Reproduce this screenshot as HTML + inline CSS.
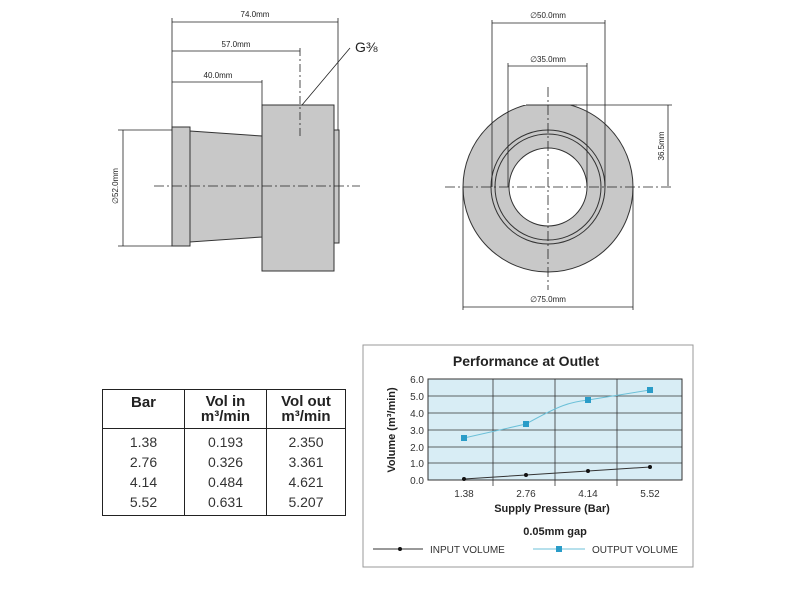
<!DOCTYPE html>
<html><head><style>
body{margin:0;width:800px;height:600px;background:#fff;overflow:hidden;font-family:"Liberation Sans",sans-serif;}
svg{position:absolute;left:0;top:0}
table{position:absolute;left:102px;top:389px;width:244px;border-collapse:collapse;border:1.5px solid #222;font-size:14px;color:#333}
td{border-left:1px solid #222;text-align:center;padding:0;line-height:20px;height:20px}
td:first-child{border-left:none}
th{border-left:1px solid #222;border-bottom:1px solid #222;font-size:15px;line-height:15px;height:36px;padding:1px 0;color:#222}
th:first-child{border-left:none;vertical-align:top;padding-top:5px;height:32px}
tr.f td{padding-top:3px}
tr.l td{padding-bottom:3px}
</style></head><body>
<svg width="800" height="600" font-family="Liberation Sans, sans-serif">
<g stroke="#333" stroke-width="1" fill="#c8c8c8">
<rect x="172" y="127" width="18" height="119"/>
<polygon points="190,131 262,136 262,237 190,242"/>
<rect x="334" y="130" width="5" height="113"/>
<rect x="262" y="105" width="72" height="166"/>
</g>
<g stroke="#222" stroke-width="0.8" fill="none">
<line x1="172" y1="18" x2="172" y2="127"/><line x1="338" y1="18" x2="338" y2="130"/>
<line x1="262" y1="80" x2="262" y2="105"/>
<line x1="172" y1="22" x2="338" y2="22"/><line x1="172" y1="51" x2="300" y2="51"/><line x1="172" y1="82" x2="262" y2="82"/>
<line x1="300" y1="48" x2="300" y2="138" stroke-dasharray="8,3,2,3"/>
<line x1="154" y1="186" x2="360" y2="186" stroke-dasharray="10,3,2,3"/>
<line x1="123" y1="130" x2="123" y2="246"/><line x1="118" y1="130" x2="172" y2="130"/><line x1="118" y1="246" x2="172" y2="246"/>
<line x1="350" y1="48" x2="302" y2="105"/>
</g>
<g font-size="8" fill="#222" text-anchor="middle">
<text x="255" y="17">74.0mm</text><text x="236" y="47">57.0mm</text><text x="218" y="78">40.0mm</text>
<text transform="translate(118,186) rotate(-90)">∅52.0mm</text>
<text x="548" y="18">∅50.0mm</text><text x="548" y="62">∅35.0mm</text><text x="548" y="302">∅75.0mm</text>
<text transform="translate(664,146) rotate(-90)">36.5mm</text>
</g>
<text x="355" y="52" font-size="14" fill="#222">G⅜</text>
<defs><clipPath id="c"><rect x="400" y="105" width="300" height="200"/></clipPath></defs>
<circle cx="548" cy="187" r="85" fill="#c8c8c8" stroke="#333" clip-path="url(#c)"/>
<line x1="526" y1="105" x2="577" y2="105" stroke="#333"/>
<circle cx="548" cy="187" r="57" fill="none" stroke="#333"/>
<circle cx="548" cy="187" r="53" fill="none" stroke="#333"/>
<circle cx="548" cy="187" r="39" fill="#fff" stroke="#333"/>
<g stroke="#222" stroke-width="0.8" fill="none">
<line x1="492" y1="20" x2="492" y2="187"/><line x1="605" y1="20" x2="605" y2="187"/><line x1="492" y1="23" x2="605" y2="23"/>
<line x1="508" y1="63" x2="508" y2="187"/><line x1="587" y1="63" x2="587" y2="187"/><line x1="508" y1="66" x2="587" y2="66"/>
<line x1="577" y1="105" x2="672" y2="105"/><line x1="668" y1="105" x2="668" y2="186"/>
<line x1="463" y1="187" x2="463" y2="310"/><line x1="633" y1="187" x2="633" y2="310"/><line x1="463" y1="307" x2="633" y2="307"/>
<line x1="445" y1="187" x2="672" y2="187" stroke-dasharray="10,3,2,3"/>
<line x1="548" y1="87" x2="548" y2="290" stroke-dasharray="10,3,2,3"/>
</g>
<rect x="363" y="345" width="330" height="222" fill="#fff" stroke="#999"/>
<text x="526" y="366" font-size="14" font-weight="bold" text-anchor="middle" fill="#222">Performance at Outlet</text>
<rect x="428" y="379" width="254" height="101" fill="#d8edf5" stroke="#333"/>
<g stroke="#333" stroke-width="0.8">
<line x1="428" y1="396" x2="682" y2="396"/><line x1="428" y1="413" x2="682" y2="413"/><line x1="428" y1="430" x2="682" y2="430"/><line x1="428" y1="447" x2="682" y2="447"/><line x1="428" y1="463" x2="682" y2="463"/>
<line x1="493" y1="379" x2="493" y2="486"/><line x1="555" y1="379" x2="555" y2="486"/><line x1="617" y1="379" x2="617" y2="486"/>
</g>
<g font-size="10" fill="#333" text-anchor="end">
<text x="424" y="383">6.0</text><text x="424" y="400">5.0</text><text x="424" y="417">4.0</text><text x="424" y="434">3.0</text><text x="424" y="451">2.0</text><text x="424" y="467">1.0</text><text x="424" y="484">0.0</text>
</g>
<g font-size="10" fill="#333" text-anchor="middle">
<text x="464" y="497">1.38</text><text x="526" y="497">2.76</text><text x="588" y="497">4.14</text><text x="650" y="497">5.52</text>
</g>
<text x="552" y="512" font-size="11" font-weight="bold" text-anchor="middle" fill="#222">Supply Pressure (Bar)</text>
<text x="555" y="535" font-size="11" font-weight="bold" text-anchor="middle" fill="#222">0.05mm gap</text>
<text transform="translate(395,430) rotate(-90)" font-size="11" font-weight="bold" text-anchor="middle" fill="#222">Volume (m³/min)</text>
<polyline points="464,479 526,475 588,471 650,467" fill="none" stroke="#333"/>
<g fill="#111"><circle cx="464" cy="479" r="2"/><circle cx="526" cy="475" r="2"/><circle cx="588" cy="471" r="2"/><circle cx="650" cy="467" r="2"/></g>
<path d="M464,438 L526,424 C560,405 570,402 588,400 L650,390" fill="none" stroke="#6cc0d8"/>
<g fill="#2a9cc8"><rect x="461" y="435" width="6" height="6"/><rect x="523" y="421" width="6" height="6"/><rect x="585" y="397" width="6" height="6"/><rect x="647" y="387" width="6" height="6"/></g>
<line x1="373" y1="549" x2="423" y2="549" stroke="#333"/><circle cx="400" cy="549" r="2" fill="#111"/>
<text x="430" y="553" font-size="10" fill="#333">INPUT VOLUME</text>
<line x1="533" y1="549" x2="585" y2="549" stroke="#6cc0d8"/><rect x="556" y="546" width="6" height="6" fill="#2a9cc8"/>
<text x="592" y="553" font-size="10" fill="#333">OUTPUT VOLUME</text>
</svg>
<table>
<tr><th style="width:81px">Bar</th><th style="width:81px">Vol in<br>m³/min</th><th>Vol out<br>m³/min</th></tr>
<tr class="f"><td>1.38</td><td>0.193</td><td>2.350</td></tr>
<tr><td>2.76</td><td>0.326</td><td>3.361</td></tr>
<tr><td>4.14</td><td>0.484</td><td>4.621</td></tr>
<tr class="l"><td>5.52</td><td>0.631</td><td>5.207</td></tr>
</table>
</body></html>
